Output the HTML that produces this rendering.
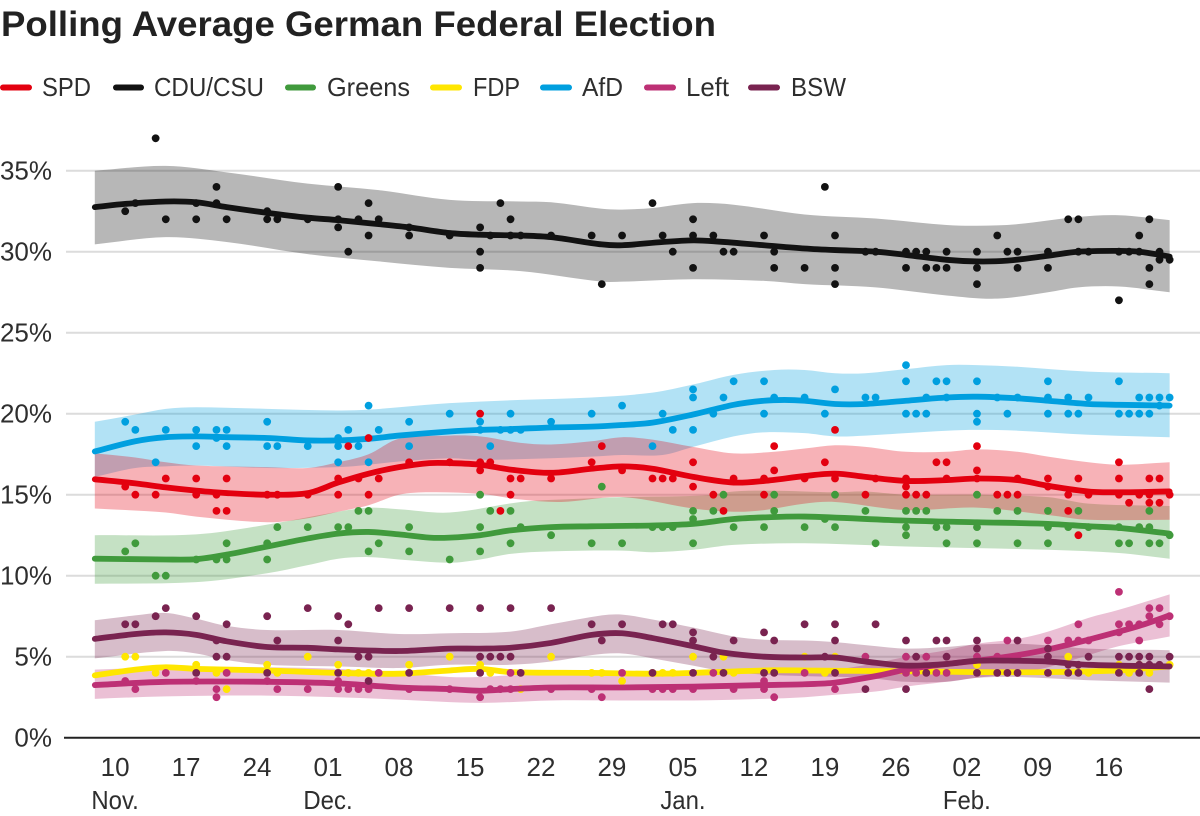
<!DOCTYPE html>
<html lang="en">
<head>
<meta charset="utf-8">
<title>Polling Average German Federal Election</title>
<style>
html,body{margin:0;padding:0;background:#fff;}
svg{display:block;font-family:"Liberation Sans",sans-serif;}
</style>
</head>
<body>
<svg id="chart" xmlns="http://www.w3.org/2000/svg" width="1200" height="816" viewBox="0 0 1200 816">
  <text x="1" y="36" font-size="35.5" font-weight="700" fill="#222" textLength="715" lengthAdjust="spacingAndGlyphs">Polling Average German Federal Election</text>
  <g font-size="26" fill="#2e2e2e">
    <g><line x1="3" x2="29" y1="87.5" y2="87.5" stroke="#e3000f" stroke-width="6" stroke-linecap="round"/><text x="42" y="96" textLength="49" lengthAdjust="spacingAndGlyphs">SPD</text></g>
    <g><line x1="116" x2="141" y1="87.5" y2="87.5" stroke="#121212" stroke-width="6" stroke-linecap="round"/><text x="154" y="96" textLength="110" lengthAdjust="spacingAndGlyphs">CDU/CSU</text></g>
    <g><line x1="288" x2="313" y1="87.5" y2="87.5" stroke="#409a3c" stroke-width="6" stroke-linecap="round"/><text x="327" y="96" textLength="83" lengthAdjust="spacingAndGlyphs">Greens</text></g>
    <g><line x1="433" x2="459" y1="87.5" y2="87.5" stroke="#ffe600" stroke-width="6" stroke-linecap="round"/><text x="473" y="96" textLength="47" lengthAdjust="spacingAndGlyphs">FDP</text></g>
    <g><line x1="543" x2="569" y1="87.5" y2="87.5" stroke="#009fdf" stroke-width="6" stroke-linecap="round"/><text x="582" y="96" textLength="41" lengthAdjust="spacingAndGlyphs">AfD</text></g>
    <g><line x1="647" x2="673" y1="87.5" y2="87.5" stroke="#bd3075" stroke-width="6" stroke-linecap="round"/><text x="686" y="96" textLength="43" lengthAdjust="spacingAndGlyphs">Left</text></g>
    <g><line x1="751" x2="777" y1="87.5" y2="87.5" stroke="#792350" stroke-width="6" stroke-linecap="round"/><text x="791" y="96" textLength="55" lengthAdjust="spacingAndGlyphs">BSW</text></g>
  </g>
  <g id="grid"></g>
  <g id="bands"></g>
  <g id="series"></g>
  <g id="axes"></g>
</svg>
<script>
// Axis content
const yTicks = [0, 5, 10, 15, 20, 25, 30, 35];
const xTickDays = [2, 9, 16, 23, 30, 37, 44, 51, 58, 65, 72, 79, 86, 93, 100];
const xTickLabels = ['10', '17', '24', '01', '08', '15', '22', '29', '05', '12', '19', '26', '02', '09', '16'];
const monthDays = [2, 23, 58, 86];
const monthLabels = ['Nov.', 'Dec.', 'Jan.', 'Feb.'];

// Polls: [day since Nov 8, value, value...]
const cduPolls = [[3,32.5],[4,33],[6,37],[7,32],[10,33,32],[12,34,33],[13,32],[17,32.5,32],[18,32],[21,32],[24,34,32,31.5],[25,30],[26,32],[27,33,31],[28,32],[31,31.5,31],[35,31],[38,31.5,30,29],[39,31],[40,33],[41,32,31],[42,31],[45,31],[49,31],[50,28],[52,31],[55,33],[56,31],[57,30],[59,32,31,29],[61,31],[62,30],[63,30],[66,31],[67,30,29],[70,29],[72,34],[73,31,29,28],[76,30],[77,30],[80,30,29],[81,30],[82,30,29],[83,29],[84,30,29],[87,30,29,28],[89,31],[90,30],[91,30,29],[94,30,29],[96,32],[97,32,30],[98,30],[101,30,27],[102,30],[103,31,30],[104,32,29,28],[105,30,29.5],[106,29.5]];
const afdPolls = [[3,19.5],[4,19],[6,17],[7,19],[10,19,18],[12,19,18.5],[13,19,18],[17,19.5,18],[18,18],[21,18],[24,18.5,18,17],[25,19],[26,18],[27,20.5,17],[28,19],[31,19.5,18],[35,20],[38,19.5,19],[39,18],[40,19],[41,20,19],[42,19],[45,19.5],[49,20],[52,20.5],[55,18],[56,20],[57,19],[59,21.5,21,19],[61,20],[62,21],[63,22],[66,22,20],[67,21],[70,21],[72,20],[73,21.5],[76,21],[77,21],[80,23,22,20],[81,20],[82,21,20],[83,22],[84,22,21],[87,22,20,19.5],[89,21],[90,20],[91,21],[94,22,21,20],[96,21,20],[97,20],[98,21],[101,22,20],[102,20],[103,21,20],[104,21,20],[105,21,20.5],[106,21]];
const spdPolls = [[3,15.5],[4,15],[6,15],[7,16],[10,16,15],[12,15,14],[13,16,14],[17,15],[18,15],[21,15],[24,16,15],[25,18],[26,16],[27,18.5,15],[28,16],[31,17],[35,17],[38,20,17,16.5],[39,17],[40,14],[41,16,15],[42,16],[45,16],[49,17],[50,18],[52,16.5],[55,16],[56,16],[57,16],[59,17,15.5],[61,15],[62,14],[63,16],[66,16,15],[67,18,16.5],[70,16],[72,17],[73,19,16],[76,15],[77,16],[80,16,15.5,15],[81,15],[82,15],[83,17],[84,17,16],[87,18,16.5,16],[89,15],[90,15],[91,16,15],[94,16,15.5],[96,15,14],[97,16,12.5],[98,15],[101,17,16,15],[102,14.5],[103,15],[104,16,15,14.5],[105,16,14.5],[106,15]];
const greensPolls = [[3,11.5],[4,12],[6,10],[7,10],[10,11],[12,11],[13,12,11],[17,12,11],[18,13],[21,13],[24,13],[25,13],[26,14],[27,14,11.5],[28,12],[31,13,11.5],[35,11],[38,15,13,11.5],[39,14],[41,14,12],[42,13],[45,12.5],[49,12],[50,15.5],[52,12],[55,13],[56,13],[57,13],[59,14,13.5,12],[61,14],[62,15],[63,13],[66,13],[67,15,14],[70,13],[72,13.5],[73,15,13],[76,14],[77,12],[80,14,13,12.5],[81,14],[82,14],[83,13],[84,13,12],[87,15,13,12],[89,14],[91,14,12],[94,14,13,12],[96,13],[97,14],[98,13],[101,13,12],[102,12],[103,13],[104,14,13,12],[105,12],[106,12.5]];
const fdpPolls = [[3,5],[4,5],[6,4],[10,4.5],[12,4],[13,3],[17,4.5],[18,4],[21,5],[24,4.5],[25,4],[26,4],[27,4],[31,4.5],[35,5],[38,4.5],[39,4],[42,3],[45,5],[49,4],[50,4],[52,3.5],[55,4],[56,4],[57,4],[59,5],[62,5],[63,4],[70,5],[72,4],[73,5],[77,4],[81,4],[87,4.5],[96,5],[98,4],[101,4.5],[102,4],[103,4.5],[104,4],[106,4.5]];
const leftPolls = [[3,3.5],[4,3],[7,4],[10,3.5],[12,3,2.5],[13,4],[17,3.5],[18,3],[21,3],[24,3.5,3],[25,3],[26,3],[27,3],[28,4],[31,3],[35,3],[38,2.5],[39,3],[40,3],[41,4,3],[45,3],[49,3],[50,2.5],[52,4],[55,3],[56,3],[57,3],[59,3],[61,4],[63,3],[66,3.5,3],[67,2.5],[70,4],[73,3],[76,5],[80,5,4],[81,4],[82,5],[83,4],[84,4],[87,5],[89,5],[90,6],[91,5],[94,6],[96,6],[97,7,6],[98,6],[101,9,7,6.5],[102,7],[103,7,6],[104,8,7.5],[105,8,7],[106,7.5]];
const bswPolls = [[3,7],[4,7],[6,7.5],[7,8],[10,7.5,4],[12,6,5],[13,7,5],[17,7.5,4],[18,6],[21,8],[24,7.5,6,4],[25,7],[26,5],[27,5,3.5],[28,8],[31,8,4],[35,8],[38,8,5,4],[39,5],[40,5],[41,8,5],[42,4],[45,8],[49,7],[50,6],[52,7],[55,4],[56,7],[57,7],[59,6.5,6,4],[61,5],[62,4],[63,6],[66,6.5,4],[67,6,4],[70,7],[72,5],[73,7,6,4],[76,3],[77,7],[80,6,3],[81,5],[82,4],[83,6],[84,6,5],[87,6,5.5,4],[89,4],[90,4],[91,6,4],[94,5.5,5,4],[96,4.5,4],[97,4.5,4],[98,5],[101,5,4],[102,5],[103,5,4.5,4],[104,5,4.5,3],[105,4.5],[106,5]];

// Trend lines: [day, value]
const cduTrend = [[0,32.75],[3,32.95],[7,33.1],[10,33.05],[13,32.75],[17,32.4],[21,32.1],[24,31.95],[28,31.7],[31,31.5],[35,31.15],[38,31.05],[42,31],[45,30.9],[50,30.45],[52,30.4],[56,30.6],[59,30.7],[61,30.65],[66,30.4],[70,30.2],[73,30.1],[77,30],[80,29.8],[84,29.5],[87,29.4],[90,29.45],[94,29.75],[97,30],[101,30.05],[103,30],[106,29.7]];
const afdTrend = [[0,17.67],[4,18.3],[7,18.55],[10,18.6],[13,18.55],[17,18.5],[21,18.35],[24,18.35],[27,18.45],[30,18.65],[35,18.9],[38,19],[41,19.05],[45,19.15],[49,19.2],[52,19.3],[55,19.45],[59,19.95],[63,20.55],[66,20.8],[68,20.85],[70,20.8],[73,20.6],[76,20.6],[80,20.8],[84,21],[87,21.05],[91,20.95],[94,20.8],[98,20.6],[101,20.55],[106,20.5]];
const spdTrend = [[0,15.95],[4,15.7],[7,15.45],[10,15.25],[13,15.1],[17,15],[21,15.1],[24,15.75],[27,16.3],[30,16.7],[33,16.95],[35,16.95],[38,16.85],[41,16.55],[45,16.35],[49,16.6],[52,16.75],[55,16.6],[59,16.1],[63,15.75],[66,15.85],[70,16.15],[73,16.3],[76,16.1],[80,15.85],[84,15.9],[87,16],[91,15.9],[94,15.55],[98,15.2],[101,15.15],[106,15.2]];
const greensTrend = [[0,11.05],[7,11],[10,11.02],[13,11.3],[17,11.8],[21,12.3],[24,12.6],[27,12.7],[30,12.55],[33,12.35],[35,12.35],[38,12.5],[41,12.8],[45,13],[49,13.05],[55,13.1],[59,13.2],[63,13.5],[66,13.6],[70,13.65],[80,13.4],[87,13.3],[94,13.2],[98,13.05],[101,12.95],[106,12.6]];
const fdpTrend = [[0,3.85],[4,4.2],[7,4.35],[10,4.25],[17,4.15],[24,4],[30,3.95],[35,4.15],[38,4.25],[41,4.05],[49,4],[55,3.95],[59,4],[66,4.15],[70,4.15],[80,4.1],[87,4.05],[94,4.05],[101,4.15],[104,4.3],[106,4.4]];
const leftTrend = [[0,3.25],[7,3.45],[17,3.45],[24,3.35],[30,3.1],[35,3],[38,2.9],[41,3],[45,3.1],[52,3.1],[59,3.15],[66,3.25],[70,3.3],[73,3.4],[77,3.8],[80,4.2],[84,4.55],[87,4.75],[91,5.1],[94,5.45],[98,6.05],[101,6.55],[103,6.9],[106,7.55]];
const bswTrend = [[0,6.1],[4,6.4],[7,6.5],[10,6.35],[13,5.95],[17,5.6],[21,5.55],[24,5.45],[30,5.35],[35,5.5],[38,5.5],[41,5.55],[45,5.85],[49,6.35],[52,6.45],[55,6.15],[59,5.65],[62,5.25],[66,5],[70,4.95],[73,4.95],[76,4.7],[80,4.45],[84,4.55],[87,4.75],[91,4.75],[94,4.7],[98,4.5],[106,4.4]];

// Confidence band upper / lower edges: [day, value]
const cduUpper = [[0,35],[7,35.3],[13,34.9],[21,34.2],[28,33.8],[35,33.2],[42,33.1],[45,33.05],[50,32.65],[52,32.6],[55,32.7],[59,33],[63,32.9],[70,32.3],[77,32.05],[84,31.65],[87,31.6],[91,31.7],[97,32.15],[101,32.25],[106,31.95]];
const cduLower = [[0,30.45],[7,30.9],[13,30.6],[21,29.85],[28,29.4],[35,29],[42,28.8],[50,28.15],[52,28.15],[59,28.3],[66,28.2],[70,28],[77,27.8],[84,27.3],[89,27.1],[94,27.5],[97,27.8],[101,27.85],[106,27.5]];
const afdUpper = [[0,19.5],[4,19.95],[7,20.3],[10,20.4],[17,20.3],[24,20.2],[27,20.25],[30,20.4],[35,20.65],[42,20.85],[49,21],[55,21.3],[59,21.8],[63,22.4],[67,22.7],[70,22.7],[73,22.5],[76,22.5],[80,22.75],[84,23],[87,23],[91,22.9],[98,22.6],[106,22.5]];
const afdLower = [[0,16.1],[4,16.65],[7,16.75],[10,16.8],[17,16.65],[24,16.7],[27,16.85],[30,17.05],[35,17.25],[38,17.15],[45,17.25],[49,17.35],[52,17.45],[56,17.45],[59,17.95],[63,18.6],[66,18.85],[70,18.8],[73,18.6],[76,18.65],[80,18.8],[84,18.95],[87,19],[91,18.95],[98,18.7],[106,18.55]];
const spdUpper = [[0,17.55],[4,17.3],[7,17],[10,16.8],[17,16.7],[21,16.65],[24,17],[27,17.5],[30,18.45],[35,18.65],[38,18.6],[42,18.2],[45,18.1],[49,18.3],[52,18.55],[55,18.4],[59,17.95],[63,17.55],[67,17.65],[70,17.85],[73,18.05],[76,17.95],[80,17.65],[84,17.65],[87,17.8],[91,17.65],[94,17.35],[98,17],[101,16.85],[106,17]];
const spdLower = [[0,14.15],[7,13.9],[10,13.65],[17,13.3],[21,13.55],[24,13.95],[27,14.35],[30,15],[33,15.15],[38,15.05],[42,14.7],[46,14.55],[52,14.85],[59,14.15],[63,13.95],[66,14.05],[70,14.45],[73,14.55],[80,14.05],[87,14.2],[94,13.75],[98,13.45],[106,13.45]];
const greensUpper = [[0,12.5],[10,12.55],[17,13.15],[24,13.95],[27,14.2],[30,14.1],[35,13.9],[42,14.55],[46,14.7],[52,14.85],[60,14.95],[63,15.2],[66,15.25],[70,15.2],[73,15.15],[76,15.2],[80,15],[87,15],[94,14.85],[98,14.45],[106,14.3]];
const greensLower = [[0,9.5],[10,9.6],[17,10.15],[21,10.65],[24,11.05],[27,11.15],[30,11],[35,10.8],[38,11],[41,11.35],[45,11.5],[52,11.55],[55,11.45],[59,11.6],[63,11.9],[70,12],[80,11.8],[87,11.7],[94,11.6],[101,11.4],[106,11.05]];
const leftUpper = [[0,4.2],[7,4.35],[17,4.35],[24,4.25],[30,4],[35,3.75],[38,3.75],[41,3.85],[45,3.95],[52,4],[59,4],[66,4.05],[70,4.15],[73,4.2],[77,4.6],[80,5],[84,5.4],[87,5.8],[91,6.1],[94,6.55],[98,7.4],[101,7.9],[106,8.85]];
const leftLower = [[0,2.4],[7,2.55],[17,2.6],[24,2.5],[30,2.35],[38,2.15],[45,2.3],[52,2.3],[59,2.3],[66,2.4],[70,2.5],[73,2.65],[77,2.85],[80,3.15],[84,3.45],[87,3.7],[91,4],[94,4.35],[98,5.1],[101,5.65],[106,6.25]];
const bswUpper = [[0,7.25],[4,7.55],[7,7.7],[10,7.35],[13,6.9],[17,6.65],[24,6.65],[30,6.4],[35,6.45],[41,6.55],[45,7],[50,7.55],[52,7.6],[55,7.3],[59,6.8],[63,6.25],[66,6.05],[70,6],[73,5.9],[77,5.65],[80,5.5],[84,5.6],[87,5.75],[91,5.8],[94,5.7],[98,5.5],[106,5.4]];
const bswLower = [[0,4.9],[7,5.35],[10,5.2],[13,4.8],[17,4.5],[24,4.4],[30,4.3],[35,4.5],[41,4.5],[45,4.7],[49,5.1],[52,5.2],[55,4.9],[59,4.45],[62,4.1],[66,3.9],[70,3.8],[76,3.7],[80,3.45],[84,3.45],[87,3.7],[91,3.75],[98,3.55],[106,3.4]];

const SVG_NS = 'http://www.w3.org/2000/svg';
function xPos(day) { return 94.8 + 10.14 * day; }
function yPos(value) { return 737.7 - 16.2 * value; }

function make(parent, tag, attrs) {
  const el = document.createElementNS(SVG_NS, tag);
  Object.keys(attrs).forEach(function (k) { el.setAttribute(k, attrs[k]); });
  parent.appendChild(el);
  return el;
}

// Hermite spline through the [day, value] list, expressed as cubic beziers.
function smoothPath(points) {
  const p = points.map(function (d) { return [xPos(d[0]), yPos(d[1])]; });
  const slope = p.map(function (pt, i) {
    const a = p[Math.max(i - 1, 0)];
    const b = p[Math.min(i + 1, p.length - 1)];
    return (b[1] - a[1]) / (b[0] - a[0]);
  });
  let path = 'M' + p[0][0].toFixed(2) + ' ' + p[0][1].toFixed(2);
  for (let i = 0; i < p.length - 1; i++) {
    const dx = (p[i + 1][0] - p[i][0]) / 3;
    path += 'C' + (p[i][0] + dx).toFixed(2) + ' ' + (p[i][1] + slope[i] * dx).toFixed(2) + ' ' +
      (p[i + 1][0] - dx).toFixed(2) + ' ' + (p[i + 1][1] - slope[i + 1] * dx).toFixed(2) + ' ' +
      p[i + 1][0].toFixed(2) + ' ' + p[i + 1][1].toFixed(2);
  }
  return path;
}

const gridLayer = document.getElementById('grid');
const bandLayer = document.getElementById('bands');
const seriesLayer = document.getElementById('series');
const axisLayer = document.getElementById('axes');

yTicks.forEach(function (v) {
  if (v > 0) {
    const g = make(gridLayer, 'line', { x1: 66, x2: 1200, y1: yPos(v), y2: yPos(v), stroke: '#dcdcdc', 'stroke-width': 2 });
    
    
  }
  const t = make(axisLayer, 'text', { x: 52, y: yPos(v) + 9, 'text-anchor': 'end', 'font-size': 26, fill: '#2e2e2e' });
  
  
  t.textContent = v + '%';
});

const xAxis = make(axisLayer, 'line', { x1: 64, x2: 1200, y1: yPos(0), y2: yPos(0), stroke: '#222', 'stroke-width': 2 });



xTickDays.forEach(function (d, i) {
  const t = make(axisLayer, 'text', { x: xPos(d), y: 776, 'text-anchor': 'middle', 'font-size': 26, fill: '#2e2e2e' });
  
  
  t.textContent = xTickLabels[i];
});
monthDays.forEach(function (d, i) {
  const t = make(axisLayer, 'text', { x: xPos(d), y: 809, 'text-anchor': 'middle', 'font-size': 26, fill: '#2e2e2e' });
  
  
  t.textContent = monthLabels[i];
  t.setAttribute('textLength', (t.getComputedTextLength() * 0.92).toFixed(1));
  t.setAttribute('lengthAdjust', 'spacingAndGlyphs');
});

const seriesList = [
  { key: 'cdu-csu', color: '#121212', polls: cduPolls, trend: cduTrend, upper: cduUpper, lower: cduLower },
  { key: 'afd', color: '#009fdf', polls: afdPolls, trend: afdTrend, upper: afdUpper, lower: afdLower },
  { key: 'greens', color: '#409a3c', polls: greensPolls, trend: greensTrend, upper: greensUpper, lower: greensLower },
  { key: 'spd', color: '#e3000f', polls: spdPolls, trend: spdTrend, upper: spdUpper, lower: spdLower },
  { key: 'fdp', color: '#ffe600', polls: fdpPolls, trend: fdpTrend, upper: null, lower: null },
  { key: 'left', color: '#bd3075', polls: leftPolls, trend: leftTrend, upper: leftUpper, lower: leftLower },
  { key: 'bsw', color: '#792350', polls: bswPolls, trend: bswTrend, upper: bswUpper, lower: bswLower }
];

seriesList.forEach(function (s) {
  if (s.upper) {
    const reversed = s.lower.slice().reverse();
    const d = smoothPath(s.upper) + smoothPath(reversed).replace(/^M/, 'L') + 'Z';
    const band = make(bandLayer, 'path', { d: d, fill: s.color, 'fill-opacity': 0.3 });
    
    
  }
  const group = make(seriesLayer, 'g', {});
  
  
  s.polls.forEach(function (entry) {
    entry.slice(1).forEach(function (value) {
      const c = make(group, 'circle', { cx: xPos(entry[0]), cy: yPos(value), r: 3.9, fill: s.color });
      
      
    });
  });
  const line = make(group, 'path', { d: smoothPath(s.trend), fill: 'none', stroke: s.color, 'stroke-width': 5.8, 'stroke-linecap': 'round', 'stroke-linejoin': 'round' });
  
  
});
</script>
</body>
</html>
